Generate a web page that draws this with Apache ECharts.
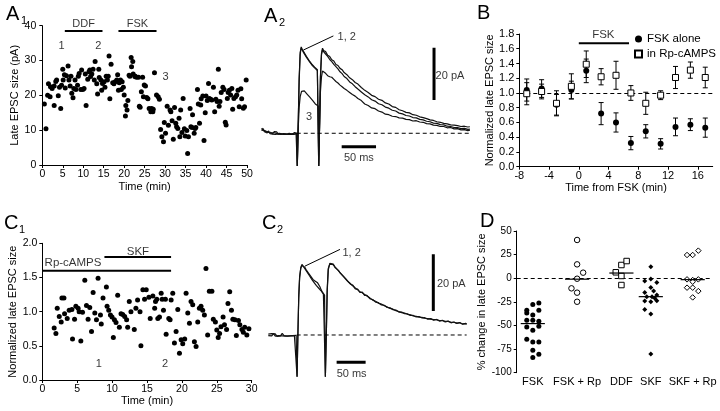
<!DOCTYPE html>
<html><head><meta charset="utf-8">
<script src="https://cdn.jsdelivr.net/npm/echarts@6.0.0/dist/echarts.min.js"></script>
<style>html,body{margin:0;padding:0;background:#fff}#c{width:720px;height:411px}</style>
</head><body><div id="c"></div>
<script>
// ---------- DATA ----------
// Panel A1: time (min), late EPSC size (pA)
const a1Points = [[0.5,17.5],[0.9,10.4],[1.3,20],[1.5,23.3],[1.9,19.6],[2.0,22.5],[2.4,22],[2.9,22.7],[2.9,17.1],[3.3,24],[3.5,24.4],[3.9,19.9],[4.2,22.3],[4.5,16.2],[4.7,22.9],[5.0,27.5],[5.1,24.4],[5.4,25.9],[5.6,22.1],[5.9,25.6],[6.3,28.4],[6.5,24.4],[6.8,22.7],[7.0,25.5],[7.2,20.6],[7.5,19.3],[7.7,22],[8.0,24.4],[8.2,21.7],[8.6,22.9],[8.8,25.5],[9.0,26.3],[9.4,21.7],[9.6,27.3],[9.9,21.7],[10.2,22],[10.5,26.1],[10.7,17.1],[11.1,24.6],[11.4,26.8],[11.6,27.3],[11.8,25.4],[12.1,26.1],[12.4,27.5],[12.7,24.4],[12.9,29.7],[13.3,23.3],[13.5,20.4],[13.8,27.5],[13.9,25.1],[14.3,24.4],[14.5,21.5],[14.7,23.4],[15.1,23.9],[15.3,22.3],[15.6,25.5],[15.9,24.4],[16.1,25.5],[16.3,31.3],[16.5,19],[16.8,28.9],[17.2,23.6],[17.5,23.3],[17.8,23.9],[18.2,24.4],[18.4,25.9],[18.6,21.5],[18.8,23.6],[19.1,24.4],[19.3,21.7],[19.5,23.9],[19.8,22.3],[20.0,20.1],[20.3,14.1],[20.4,17.1],[20.7,15.8],[20.9,18.5],[21.2,25.8],[21.4,25.5],[21.7,30.9],[21.8,28.2],[22.1,29.7],[22.2,26.1],[22.6,25.4],[22.7,25.5],[23.0,25.2],[23.5,25.2],[23.7,16.9],[23.9,16.6],[24.2,21],[24.5,25.2],[24.7,19.6],[24.9,23],[25.2,22.7],[25.5,19.4],[25.8,19],[26.1,16.2],[26.5,15.3],[26.7,16.2],[27.0,15.3],[27.1,16],[27.4,26.5],[27.9,20.1],[28.3,19.6],[28.6,18.9],[28.9,10.2],[29.2,8.1],[29.6,6.7],[29.8,12.2],[30.1,9.1],[30.5,16.9],[30.8,11.4],[31.2,15.8],[31.4,15.3],[31.7,12.7],[32.0,7.4],[32.3,16.5],[32.6,12],[32.8,11],[33.1,10.5],[33.4,13.4],[33.6,8.1],[33.8,15.8],[34.1,9.3],[34.4,19.1],[34.7,10.4],[34.9,8.3],[35.3,9.9],[35.5,3.3],[35.7,8.1],[36.1,16.2],[36.3,11],[36.6,10.8],[36.7,14.4],[37.1,9.1],[37.3,10.5],[37.5,10.8],[37.9,21.7],[38.1,17.5],[38.4,12],[38.7,17.2],[38.8,19],[39.2,19.8],[39.5,7],[39.8,15],[40.0,19.8],[40.3,18.5],[40.6,23.4],[40.8,19.1],[41.1,18.9],[41.4,18.7],[41.8,22.3],[42.1,15.3],[42.4,18.9],[42.7,18.2],[43.0,27.5],[43.2,16.9],[43.4,18.2],[43.7,20.8],[44.1,22.3],[44.4,21.7],[44.7,12.3],[44.9,11.5],[45.2,19.1],[45.4,20.8],[45.7,21.5],[46.0,20.1],[46.3,22],[46.5,16],[46.8,19.1],[47.2,19.6],[47.5,20.1],[47.8,21.5],[48.1,16.7],[48.5,21.9],[48.7,19],[49.1,16.3],[49.4,16.7],[49.8,24.4]];
const a1Bars = [['DDF',5.5,14.7],['FSK',18.6,27.9]];
const a1Marks = [['1',4.7],['2',13.7]];

// Panel A2: traces, time (ms) vs current (pA)
const a2Trace1 = [[0,2.0],[2,1.2],[4,1.6],[6,0.8],[8,1.3],[10,0.5],[12,1.0],[14,0.3],[16,0.8],[18,0.2],[20,0.6],[22,-0.1],[24,0.5],[26,0.0],[28,0.4],[30,-0.3],[32,0.3],[34,-0.2],[36,0.3],[38,-0.4],[40,0.2],[42,-0.3],[44,0.1],[46,-0.4],[48,0.2],[50,-0.1],[51,0],[51.8,-12.5],[53,2],[54.5,20],[56,30],[57.5,33],[59,32],[61,31.2],[63,30.6],[65,29.4],[67,29.0],[69,27.8],[71,27.5],[73,26.4],[75,26.1],[77,25.3],[79,24.8],[81,24.3],[82.3,24],[83,-12.5],[84.3,4],[85.5,22],[87,30.5],[88.5,32.5],[90,31.6],[93,31.2],[96,29.8],[99,29.3],[102,28.1],[105,27.6],[108,26.3],[111,25.9],[114,24.8],[117,24.3],[120,23.2],[124,22.4],[128,21.2],[132,20.5],[136,19.4],[140,18.8],[145,17.5],[150,16.4],[155,15.6],[160,14.5],[165,14.0],[170,13.0],[175,12.6],[180,11.6],[185,11.2],[190,10.2],[195,9.9],[200,9.0],[205,8.6],[210,8.0],[215,7.8],[220,7.1],[225,6.9],[230,6.3],[235,6.0],[240,5.6],[245,5.1],[250,4.9],[255,4.4],[260,4.2],[265,3.8],[270,3.6],[275,3.2],[280,3.1],[285,2.9],[290,2.6],[295,2.7],[300,2.4],[303,2.5]];
const a2Trace2 = [[0,1.4],[2,2.1],[4,0.9],[6,1.5],[8,0.4],[10,1.1],[12,0.2],[14,0.9],[16,-0.2],[18,0.6],[20,0.0],[22,0.5],[24,-0.3],[26,0.4],[28,-0.2],[30,0.3],[32,-0.4],[34,0.2],[36,-0.3],[38,0.3],[40,-0.4],[42,0.2],[44,-0.2],[46,0.3],[48,-0.3],[50,0.1],[51,0],[51.8,-12.5],[53,2],[54.5,21],[56,31],[57.5,32.6],[59,32.3],[61,30.8],[63,30.9],[65,29.1],[67,29.3],[69,27.6],[71,27.9],[73,26.1],[75,26.3],[77,25.0],[79,25.1],[81,24.0],[82.3,24.2],[83,-12.5],[84.3,4],[85.5,21],[87,30],[88.5,32],[90,31.2],[93,30.3],[96,29.4],[99,28.2],[102,27.4],[105,26.3],[108,25.5],[111,24.6],[114,23.5],[117,22.8],[120,21.7],[124,20.9],[128,19.6],[132,18.9],[136,17.8],[140,16.9],[145,15.8],[150,14.7],[155,13.9],[160,12.8],[165,12.3],[170,11.3],[175,10.9],[180,10.0],[185,9.6],[190,8.8],[195,8.5],[200,7.7],[205,7.4],[210,6.8],[215,6.6],[220,6.0],[225,5.9],[230,5.3],[235,5.1],[240,4.6],[245,4.4],[250,3.9],[255,3.8],[260,3.3],[265,3.2],[270,2.7],[275,2.6],[280,2.2],[285,2.2],[290,1.8],[295,1.9],[300,1.5],[303,1.6]];
const a2Trace3 = [[0,1.0],[2,1.8],[4,0.6],[6,1.2],[8,0.1],[10,0.9],[12,-0.1],[14,0.6],[16,-0.3],[18,0.4],[20,-0.4],[22,0.3],[24,-0.2],[26,0.5],[28,-0.4],[30,0.1],[32,-0.1],[34,0.4],[36,-0.4],[38,0.1],[40,0.0],[42,0.4],[44,-0.4],[46,0.0],[48,0.3],[50,-0.2],[51,0],[51.8,-12.5],[53,1],[54.5,10],[56,14],[58,16],[60,16.6],[62,16.2],[64,15.9],[66,15.0],[68,14.6],[70,13.8],[72,13.2],[74,12.6],[76,12.0],[78,11.2],[80,10.8],[82.3,10.4],[83,-12.5],[84.3,3],[85.5,16],[87,21.5],[88.5,23.8],[90,23.4],[93,22.9],[96,22.0],[99,21.6],[102,21.4],[105,20.6],[108,19.8],[111,19.2],[114,18.4],[117,17.8],[120,17.1],[124,16.4],[128,15.6],[132,14.8],[136,14.2],[140,13.3],[145,12.5],[150,11.2],[155,10.6],[160,9.7],[165,9.4],[170,8.5],[175,8.1],[180,7.3],[185,7.1],[190,6.5],[195,6.4],[200,5.9],[205,5.8],[210,5.3],[215,5.2],[220,4.7],[225,4.8],[230,4.3],[235,4.2],[240,3.7],[245,3.6],[250,3.1],[255,3.0],[260,2.6],[265,2.6],[270,2.1],[275,2.2],[280,1.7],[285,1.8],[290,1.3],[295,1.4],[300,1.0],[303,1.2]];

// Panel B: time from FSK (min), normalized late EPSC size, SEM
const bTime = [-7,-5,-3,-1,1,3,5,7,9,11,13,15,17];
const bFsk = [1.04,1.06,0.84,1.04,1.30,0.72,0.60,0.32,0.48,0.31,0.54,0.57,0.53];
const bFskErr = [0.15,0.12,0.14,0.12,0.16,0.15,0.13,0.09,0.09,0.07,0.12,0.08,0.13];
const bRp = [0.99,1.02,0.86,1.09,1.39,1.22,1.24,1.00,0.86,0.97,1.21,1.31,1.21];
const bRpErr = [0.15,0.10,0.17,0.17,0.18,0.11,0.19,0.10,0.15,0.06,0.15,0.11,0.14];
const bSeriesNames = ['FSK alone','in Rp-cAMPS'];
const bTickLabels = [-8,-4,0,4,8,12,16];

// Panel C1: time (min), normalized late EPSC size
const c1Points = [[1.7,0.76],[1.95,0.68],[2.14,1.05],[2.43,0.93],[2.71,0.85],[2.81,1.2],[3.1,1.2],[3.19,0.97],[3.57,0.9],[3.85,1.02],[4.24,1.03],[4.33,0.6],[4.62,0.89],[4.81,1.08],[5.13,1.05],[5.28,1.0],[5.52,0.57],[5.76,0.99],[6.09,1.46],[6.33,1.09],[6.56,0.89],[6.8,1.06],[7.05,0.71],[7.28,1.28],[7.52,0.98],[7.76,0.88],[7.99,1.49],[8.33,0.95],[8.45,0.82],[8.7,1.2],[9.18,1.36],[9.28,1.08],[9.52,1.02],[9.76,0.95],[9.99,0.92],[10.18,0.62],[10.33,0.88],[10.56,0.84],[10.8,1.24],[11.04,0.77],[11.28,0.97],[11.52,0.96],[11.8,0.93],[12.08,0.88],[12.23,0.77],[12.46,1.15],[12.7,1.0],[13.18,0.74],[13.41,1.05],[13.65,1.17],[14.0,1.0],[14.13,0.5],[14.41,1.32],[14.65,1.18],[14.89,1.32],[15.27,1.21],[15.46,0.9],[15.84,1.23],[16.1,1.05],[16.22,1.15],[16.41,1.18],[16.55,0.9],[16.79,0.92],[17.03,1.27],[17.17,1.18],[17.36,1.02],[17.64,1.18],[17.74,0.67],[18.12,0.9],[18.31,0.88],[18.46,1.17],[18.69,1.27],[18.93,0.54],[19.17,0.71],[19.41,1.03],[19.65,0.39],[19.89,0.59],[20.12,0.53],[20.4,0.6],[20.6,1.27],[20.84,0.98],[21.08,0.83],[21.31,1.15],[21.55,1.1],[21.79,0.56],[22.03,0.49],[22.27,0.85],[22.5,1.05],[22.74,1.08],[22.98,1.02],[23.22,0.95],[23.45,1.63],[23.69,0.66],[23.93,1.3],[24.3,1.3],[24.5,0.89],[24.8,0.85],[25.0,0.73],[25.2,0.62],[25.4,0.68],[25.6,0.78],[25.9,0.92],[26.1,0.81],[26.4,0.74],[26.6,1.12],[26.85,1.29],[27.1,1.02],[27.3,0.89],[27.6,0.88],[27.8,0.65],[28.1,0.87],[28.3,0.81],[28.6,0.74],[28.8,0.7],[29.0,0.77],[29.3,0.66],[29.6,0.75]];
const c1Bars = [['SKF',8.9,18.45],['Rp-cAMPS',0,18.45]];
const c1Marks = [['1',8.1],['2',17.6]];

// Panel C2: traces
const c2Trace1 = [[0,0.3],[3,-0.4],[6,0.5],[9,-0.2],[12,0.4],[15,-0.5],[18,0.2],[21,-0.3],[24,0.6],[27,-0.2],[30,0.3],[33,-0.4],[36,0.2],[39,-0.3],[42,0.4],[45,-0.2],[48,0.1],[48.9,0],[49.6,-14.7],[51,0],[52.5,14],[54,20.6],[56,23.5],[58,24.5],[59.5,24.7],[61,24.2],[63,23.9],[65,23.1],[67,22.6],[69,21.9],[71,21.5],[73,20.8],[75,20.3],[77,19.6],[79,19.5],[81,19.0],[83,18.9],[85,18.4],[87,18.0],[89,17.0],[91,16.0],[93,15.2],[95,14.6],[97,14.1],[97.7,14],[98.4,-14.7],[100,0],[101.5,16],[103.4,23.5],[106,25.0],[109,25.5],[112,24.8],[115,24.0],[118,23.6],[121,22.6],[124,22.2],[127,21.3],[130,20.9],[133,20.0],[136,19.5],[139,18.6],[142,18.2],[146,17.3],[150,16.6],[154,16.0],[158,15.2],[162,14.9],[166,14.3],[170,13.8],[175,13.1],[180,12.3],[185,11.9],[190,11.2],[195,10.9],[200,10.3],[205,9.9],[210,9.4],[215,9.1],[220,8.6],[225,8.3],[230,7.9],[235,7.7],[240,7.3],[245,7.1],[250,6.7],[255,6.6],[260,6.3],[265,6.2],[270,5.9],[275,5.8],[280,5.6],[285,5.4],[290,5.4],[295,5.1],[300,5.1],[305,4.8],[310,4.8],[315,4.5],[320,4.5],[325,4.2],[330,4.3],[335,3.9],[340,4.0],[342,3.8]];
const c2Trace2 = [[0,-0.2],[3,0.4],[6,-0.3],[9,0.5],[12,-0.4],[15,0.3],[18,-0.2],[21,0.5],[24,-0.3],[27,0.4],[30,-0.4],[33,0.3],[36,-0.3],[39,0.4],[42,-0.2],[45,0.3],[48,-0.1],[48.9,0],[49.6,-14.7],[51,0],[52.5,13],[54,20],[56,23.8],[58,24.9],[59.5,24.4],[61,24.5],[63,23.4],[65,23.3],[67,22.2],[69,22.0],[71,20.9],[73,20.6],[75,19.6],[77,19.0],[79,18.5],[81,18.0],[83,17.4],[85,16.8],[87,16.5],[89,16.2],[91,15.6],[93,15.0],[95,14.4],[97,14.0],[97.7,13.9],[98.4,-14.7],[100,0],[101.5,15],[103.4,23.0],[106,25.3],[109,25.2],[112,25.0],[115,23.8],[118,23.3],[121,22.8],[124,21.8],[127,21.5],[130,20.5],[133,20.2],[136,19.1],[139,18.9],[142,17.9],[146,17.5],[150,16.3],[154,16.2],[158,15.0],[162,15.1],[166,14.0],[170,14.0],[175,12.8],[180,12.5],[185,11.6],[190,11.4],[195,10.6],[200,10.5],[205,9.7],[210,9.6],[215,8.9],[220,8.8],[225,8.1],[230,8.1],[235,7.5],[240,7.5],[245,6.9],[250,6.9],[255,6.4],[260,6.5],[265,6.0],[270,6.1],[275,5.6],[280,5.8],[285,5.2],[290,5.5],[295,4.9],[300,5.2],[305,4.6],[310,4.9],[315,4.3],[320,4.6],[325,4.1],[330,4.4],[335,3.8],[340,4.1],[342,3.9]];

// Panel D: % change in late EPSC size, [jitter, value]
const dCats = ['FSK','FSK + Rp','DDF','SKF','SKF + Rp'];
const dFsk = [[0,-27.9],[0.15,-26.1],[-0.15,-33.9],[-0.15,-36.7],[0,-38.8],[0.15,-33.9],[-0.15,-44.5],[0,-44.5],[0.15,-45.6],[-0.15,-51.6],[0,-55.1],[0.15,-50.8],[-0.15,-64.6],[0,-67.4],[0.15,-67.4],[0,-76.3],[0.15,-80.5],[0,-84.0]];
const dFskRp = [[0,40.5],[0,14.7],[0.15,5.9],[0,-0.5],[-0.14,-10.7],[0,-15.3],[0,-24.9]];
const dDdf = [[0,14.0],[0.13,18.2],[-0.14,6.3],[0,2.4],[0,-7.2]];
const dSkf = [[0,12.2],[-0.15,-3],[0,-0.8],[0.15,-4.4],[0,-9.7],[-0.15,-15],[0.07,-13.6],[0.15,-17.8],[-0.1,-19.6],[0.03,-19.6],[0.1,-21.3],[-0.15,-24.1],[0,-24.9],[0.15,-23.8],[-0.15,-33],[0,-37.9],[0,-80.3]];
const dSkfRp = [[-0.14,24.6],[0,24.6],[0.14,29.2],[-0.14,-1.2],[0,-1.9],[0.14,-1.2],[0,-3.7],[-0.14,-10],[0,-10],[0.14,-13.6],[0,-20.3]];
const dMeans = [-48,-1,5.5,-19.5,-1.5];

// ---------- CHART ----------
const F = '"Liberation Sans", Arial, Helvetica, sans-serif';
// layout: where each D category sits on its x scale (the original spacing is uneven)
const dSlot = [0, 1.1, 2.2, 2.93, 3.97];
const chart = echarts.init(document.getElementById('c'), null, {renderer:'canvas', width:720, height:411});

function vAxis(grid, o) {
  return Object.assign({
    type:'value', gridIndex:grid,
    axisLine:{show:true, onZero:false, lineStyle:{color:'#000', width:1}},
    axisTick:{show:true, length:3, lineStyle:{color:'#000', width:1}},
    axisLabel:{color:'#000', fontSize:o.fs||10.5, fontFamily:F, margin:o.margin||4, formatter:o.fmt},
    splitLine:{show:false},
    nameLocation:'middle',
    nameTextStyle:{color:'#000', fontSize:o.nfs||11, fontFamily:F}
  }, o.rest);
}
function hAxis(grid, min, max) {
  return {type:'value', gridIndex:grid, min:min, max:max, show:false};
}
function dots(i, data, sym, size, fill, name) {
  return {type:'scatter', name:name, xAxisIndex:i, yAxisIndex:i, data:data, symbol:sym, symbolSize:size,
    itemStyle:{color:fill, borderColor:'#000', borderWidth:fill==='#fff'?1:0, opacity:1}, silent:true, z:5};
}
function seg(i, pts, w, dash) {
  return {type:'line', xAxisIndex:i, yAxisIndex:i, data:pts, symbol:'none', silent:true, clip:false,
    lineStyle:{color:'#000', width:w, type:dash||'solid'}, z:4};
}
function texts(i, items, size) {
  return {type:'scatter', xAxisIndex:i, yAxisIndex:i, symbolSize:1, clip:false, silent:true,
    itemStyle:{color:'transparent'}, z:10,
    data: items.map(d => ({value:[d[0], d[1]], label:{show:true, formatter:d[2], position:'inside',
      color:'#000', fontSize:size||11, fontFamily:F}}))};
}
function errSeries(i, times, vals, errs) {
  return {type:'custom', xAxisIndex:i, yAxisIndex:i, silent:true, z:3, encode:{x:0, y:1},
    data: times.map((t,k) => [t, vals[k], errs[k]]),
    renderItem: function(params, api) {
      const x = api.value(0), y = api.value(1), e = api.value(2);
      const p1 = api.coord([x, y+e]), p2 = api.coord([x, y-e]);
      const w = 2.5, st = {stroke:'#000', lineWidth:1};
      return {type:'group', children:[
        {type:'line', shape:{x1:p1[0], y1:p1[1], x2:p2[0], y2:p2[1]}, style:st},
        {type:'line', shape:{x1:p1[0]-w, y1:p1[1], x2:p1[0]+w, y2:p1[1]}, style:st},
        {type:'line', shape:{x1:p2[0]-w, y1:p2[1], x2:p2[0]+w, y2:p2[1]}, style:st}
      ]};
    }};
}
function meanSeries(i, means) {
  return {type:'custom', xAxisIndex:i, yAxisIndex:i, silent:true, z:6, encode:{x:0, y:1},
    data: means.map((m,k) => [dSlot[k], m]),
    renderItem: function(params, api) {
      const p1 = api.coord([api.value(0)-0.3, api.value(1)]);
      const p2 = api.coord([api.value(0)+0.3, api.value(1)]);
      return {type:'line', shape:{x1:p1[0], y1:p1[1], x2:p2[0], y2:p2[1]}, style:{stroke:'#000', lineWidth:1.2}};
    }};
}
function traceSeries(i, data) {
  return {type:'line', xAxisIndex:i, yAxisIndex:i, data:data, symbol:'none', silent:true, clip:false,
    lineStyle:{color:'#111', width:1.2}, z:3};
}
const dashed = [4,3];

const series = [];
// A1 (index 0)
series.push(dots(0, a1Points, 'circle', 5, '#000'));
a1Bars.forEach(b => series.push(seg(0, [[b[1],38.5],[b[2],38.5]], 2)));
series.push(texts(0, a1Bars.map(b => [(b[1]+b[2])/2, 40.4, b[0]]), 11));
series.push(texts(0, a1Marks.map(m => [m[1], 34.3, m[0]]).concat([[30.1, 25.2, '3']]), 11));

// A2 (index 1)
series.push(traceSeries(1, a2Trace1), traceSeries(1, a2Trace2), traceSeries(1, a2Trace3));
series.push(seg(1, [[51,0],[303,0]], 1, dashed));
series.push(seg(1, [[60.6,31.8],[104.3,37.2]], 1));
series.push(seg(1, [[250.8,12.7],[250.8,32.7]], 3));
series.push(seg(1, [[116.4,-5.1],[166.4,-5.1]], 3));
series.push(texts(1, [[123.7,36.9,'1, 2'],[69,6.4,'3'],[274,21.9,'20 pA'],[141.4,-9.4,'50 ms']], 11));

// B (index 2)
series.push(errSeries(2, bTime, bFsk, bFskErr));
series.push(errSeries(2, bTime, bRp, bRpErr));
const bFskS = dots(2, bTime.map((t,k)=>[t,bFsk[k]]), 'circle', 6, '#000', bSeriesNames[0]);
bFskS.markLine = {silent:true, symbol:'none', label:{show:false}, animation:false,
  lineStyle:{color:'#000', type:dashed, width:1.2}, data:[{yAxis:1}]};
series.push(bFskS);
series.push(dots(2, bTime.map((t,k)=>[t,bRp[k]]), 'rect', 6, '#fff', bSeriesNames[1]));
series.push(seg(2, [[0,1.675],[6.75,1.675]], 2));
series.push(texts(2, [[3.3,1.79,'FSK']], 11.5));

// C1 (index 3)
series.push(dots(3, c1Points, 'circle', 5, '#000'));
series.push(seg(3, [[c1Bars[0][1],1.8],[c1Bars[0][2],1.8]], 2));
series.push(seg(3, [[c1Bars[1][1],1.6],[c1Bars[1][2],1.6]], 2));
series.push(texts(3, [[13.7,1.88,c1Bars[0][0]],[4.4,1.715,c1Bars[1][0]]], 11.5));
series.push(texts(3, c1Marks.map(m => [m[1], 0.24, m[0]]), 11));

// C2 (index 4)
series.push(traceSeries(4, c2Trace1), traceSeries(4, c2Trace2));
series.push(seg(4, [[48.9,0],[342,0]], 1, dashed));
series.push(seg(4, [[63.2,24.3],[123.6,30.2]], 1));
series.push(seg(4, [[284.5,8.5],[284.5,28.5]], 3));
series.push(seg(4, [[117.8,-9.6],[167.8,-9.6]], 3));
series.push(texts(4, [[143.7,28.8,'1, 2'],[315.5,18,'20 pA'],[143.7,-13.6,'50 ms']], 11));

// D (index 5)
const dz = dots(5, dFsk.map(p=>[dSlot[0]+p[0],p[1]]), 'circle', 5, '#000');
dz.markLine = {silent:true, symbol:'none', label:{show:false}, animation:false,
  lineStyle:{color:'#000', type:dashed, width:1.2}, data:[{yAxis:0}]};
series.push(dz);
series.push(dots(5, dFskRp.map(p=>[dSlot[1]+p[0],p[1]]), 'circle', 5.5, '#fff'));
series.push(dots(5, dDdf.map(p=>[dSlot[2]+p[0],p[1]]), 'rect', 5.5, '#fff'));
series.push(dots(5, dSkf.map(p=>[dSlot[3]+p[0],p[1]]), 'diamond', 5, '#000'));
series.push(dots(5, dSkfRp.map(p=>[dSlot[4]+p[0],p[1]]), 'diamond', 5.5, '#fff'));
series.push(meanSeries(5, dMeans));

function letter(x, y, big, sub) {
  return [
    {type:'text', left:x, top:y, silent:true, style:{text:big, fill:'#000', font:'20px '+F}},
    {type:'text', left:x+15, top:y+11, silent:true, style:{text:sub, fill:'#000', font:'11px '+F}}
  ];
}
const graphics = [].concat(
  letter(6, 4, 'A', '1'),
  letter(264, 6, 'A', '2'),
  [{type:'text', left:477, top:3, silent:true, style:{text:'B', fill:'#000', font:'20px '+F}}],
  letter(4, 213, 'C', '1'),
  letter(262, 213, 'C', '2'),
  [{type:'text', left:480, top:211, silent:true, style:{text:'D', fill:'#000', font:'20px '+F}}]
);

const dLabelMap = {};
dSlot.forEach((s,k) => { dLabelMap[s.toFixed(2)] = dCats[k]; });

chart.setOption({
  animation:false,
  backgroundColor:'#fff',
  textStyle:{fontFamily:F},
  grid:[
    {left:42.3, top:25.7, width:204.7, height:139.3},
    {left:261.7, top:28.6, width:213, height:138.7},
    {left:519.3, top:34, width:193.4, height:132.7},
    {left:42.3, top:243.3, width:209.4, height:136.7},
    {left:268.3, top:235.8, width:200.1, height:141.7},
    {left:516.7, top:231, width:193.3, height:141.7}
  ],
  xAxis:[
    vAxis(0, {rest:{min:0, max:50, interval:5, name:'Time (min)', nameGap:16}}),
    hAxis(1, 0, 310),
    vAxis(2, {fs:11, rest:{min:-8, max:18, interval:4, name:'Time from FSK (min)', nameGap:14}}),
    vAxis(3, {rest:{min:0, max:30, interval:5, name:'Time (min)', nameGap:15}}),
    hAxis(4, 0, 345),
    vAxis(5, {fs:11, margin:4, fmt:v => dLabelMap[Number(v).toFixed(2)] || ''})
  ],
  yAxis:[
    vAxis(0, {margin:6, rest:{min:0, max:40, interval:10, name:'Late EPSC size (pA)', nameGap:20}}),
    hAxis(1, -13, 40),
    vAxis(2, {fs:11, margin:5, fmt:v => v.toFixed(1), rest:{min:0, max:1.8, interval:0.2, name:'Normalized late EPSC size', nameGap:24}}),
    vAxis(3, {margin:5, fmt:v => v.toFixed(1), rest:{min:0, max:2.0, interval:0.5, name:'Normalized late EPSC size', nameGap:23}}),
    hAxis(4, -15, 35),
    vAxis(5, {fs:10, margin:5, rest:{min:-100, max:50, interval:25, name:'% change in late EPSC size', nameGap:20}})
  ],
  legend:{data:bSeriesNames, orient:'vertical', left:629, top:28, itemGap:3, itemWidth:7, itemHeight:7,
    textStyle:{color:'#000', fontSize:11.5, fontFamily:F}, selectedMode:false},
  graphic:graphics,
  series:series
});
// B: labels/ticks only at the printed values; D: labels at the category slots, no axis line
chart.setOption({xAxis:[{},{},
  {axisLabel:{customValues:bTickLabels}, axisTick:{customValues:bTickLabels}},
  {},{},
  {min:-0.4, max:4.4, axisLine:{show:false}, axisTick:{show:false}, axisLabel:{customValues:dSlot}}]});
</script></body></html>
